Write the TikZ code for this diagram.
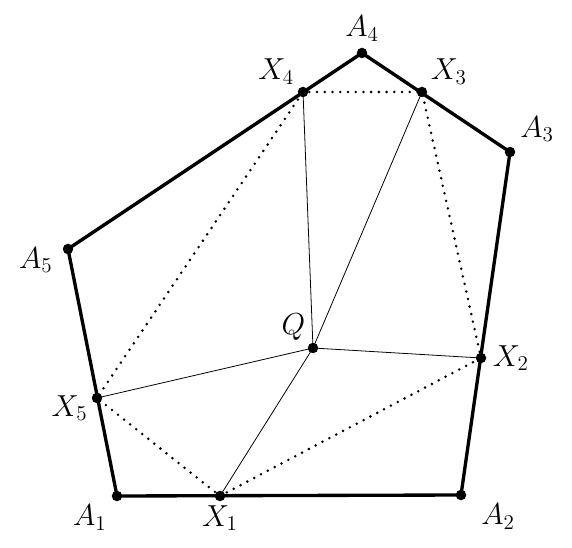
\documentclass[tikz,border=0pt]{standalone}
\usepackage{amsmath, amssymb}
\usepackage{tikz}
\usetikzlibrary{positioning, calc}

\tikzset{
    pt/.style={circle, fill=black, inner sep=0pt, minimum size=2.1mm},
    side/.style={line width=1.9pt, line join=round},
    diag/.style={line width=1.6pt, line cap=round, dash pattern=on 0pt off 4.4pt},
    ray/.style={line width=0.45pt},
    lbl/.style={font=\fontsize{18}{21}\selectfont, inner sep=2pt}
}

\begin{document}
\begin{tikzpicture}
\useasboundingbox (0,0) rectangle (11.44,10.94);

\foreach \n/\x/\y in {
    A1/2.34/1.02, A2/9.22/1.04, A3/10.20/7.90, A4/7.24/9.88, A5/1.36/5.96,
    X1/4.40/1.02, X2/9.62/3.78, X3/8.44/9.10, X4/6.06/9.10, X5/1.94/2.98,
    Q/6.26/3.98}
    \coordinate (\n) at (\x,\y);

% pentagon
\draw[side] (A1) -- (A2) -- (A3) -- (A4) -- (A5) -- cycle;

% inscribed pentagon
\draw[diag] (X1) -- (X2) -- (X3) -- (X4) -- (X5) -- cycle;

% segments to Q
\foreach \m in {1,...,5}
    \draw[ray] (Q) -- (X\m);

\foreach \n in {A1,A2,A3,A4,A5,X1,X2,X3,X4,X5,Q}
    \node[pt] (p\n) at (\n) {};

\node[lbl, below left=0.02cm and 0.05cm of pA1] (lA1) {$A_1$};
\node[lbl, below right=0.02cm and 0.25cm of pA2] (lA2) {$A_2$};
\node[lbl, above right=0.05cm and 0.05cm of pA3] (lA3) {$A_3$};
\node[lbl, above=0.05cm of pA4] (lA4) {$A_4$};
\node[lbl, left=0.12cm of pA5, yshift=-0.22cm] (lA5) {$A_5$};
\node[lbl, below=0.0cm of pX1] (lX1) {$X_1$};
\node[lbl, right=0.05cm of pX2] (lX2) {$X_2$};
\node[lbl, above right=0.0cm and 0.02cm of pX3] (lX3) {$X_3$};
\node[lbl, above left=0.0cm and 0.02cm of pX4] (lX4) {$X_4$};
\node[lbl, left=0.0cm of pX5, yshift=-0.2cm] (lX5) {$X_5$};
\node[lbl, above left=0.0cm and 0.0cm of pQ] (lQ) {$Q$};

\end{tikzpicture}
\end{document}
